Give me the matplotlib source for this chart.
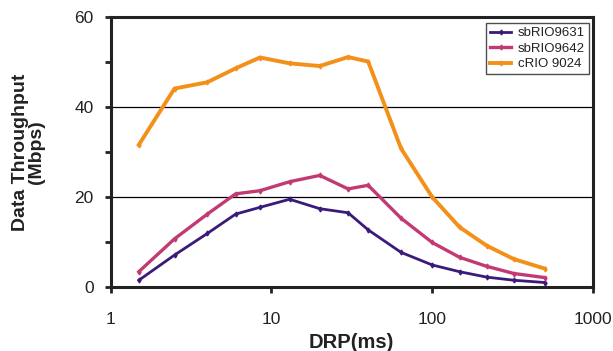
import numpy as np
import matplotlib
matplotlib.use('agg')
import matplotlib.pyplot as plt
from matplotlib.ticker import FixedLocator, NullLocator, NullFormatter

plt.rcParams['font.family'] = ['Liberation Sans', 'DejaVu Sans']

# DRP period (ms)
drp = [1.5, 2.5, 4, 6, 8.5, 13, 20, 30, 40, 64, 100, 148, 218, 322, 500]

# data throughput (Mbps)
sbrio9631 = [1.5, 7.1, 11.9, 16.2, 17.7, 19.5, 17.4, 16.5, 12.7, 7.7, 4.9, 3.4, 2.2, 1.5, 1.0]
sbrio9642 = [3.4, 10.7, 16.2, 20.7, 21.4, 23.4, 24.8, 21.8, 22.6, 15.3, 9.9, 6.6, 4.6, 3.0, 2.1]
crio9024  = [31.6, 44.1, 45.5, 48.6, 51.0, 49.7, 49.1, 51.1, 50.1, 30.8, 20.0, 13.3, 9.2, 6.2, 4.1]

names  = ['sbRIO9631', 'sbRIO9642', 'cRIO 9024']
colors = ['#3a1a7a', '#c23a72', '#f39019']
widths = [2.0, 2.4, 2.8]

W, H = 613, 351
fig = plt.figure(figsize=(W/100, H/100), dpi=100)
ax = fig.add_axes([110.5/W, 1-287/H, (593-110.5)/W, (287-17)/H])

for ys, name, c, lw in zip([sbrio9631, sbrio9642, crio9024], names, colors, widths):
    ax.plot(drp, ys, color=c, lw=lw, marker='d', ms=2.5, label=name, zorder=3)

ax.set_xscale('log')
ax.set_xlim(1, 1000)
ax.set_ylim(0, 60)
ax.xaxis.set_major_locator(FixedLocator([1, 10, 100, 1000]))
ax.xaxis.set_major_formatter(matplotlib.ticker.FixedFormatter(['1', '10', '100', '1000']))
ax.xaxis.set_minor_locator(NullLocator())
ax.xaxis.set_minor_formatter(NullFormatter())
ax.set_yticks([0, 20, 40, 60])
ax.set_yticks([10, 30, 50], minor=True)

for y in [20, 40]:
    ax.axhline(y, color='black', lw=0.9, zorder=1)

for s in ax.spines.values():
    s.set_color('#222222')
    s.set_linewidth(2.2)

ax.tick_params(axis='x', which='major', direction='out', length=4, width=2,
               color='#222222', pad=14, labelsize=12.5, labelcolor='#222222')
ax.tick_params(axis='y', which='both', direction='out', length=4, width=2,
               color='#222222', pad=8, labelsize=12.5, labelcolor='#222222')

ax.set_xlabel('DRP(ms)', fontsize=14.5, fontweight='bold', color='#222222', labelpad=4)
ax.set_ylabel('Data Throughput\n(Mbps)', fontsize=14, fontweight='bold', color='#222222',
              labelpad=21, linespacing=0.95)

leg = ax.legend(loc='upper right', bbox_to_anchor=(589/W, 1-23/H), bbox_transform=fig.transFigure,
                borderaxespad=0, fontsize=9.5, frameon=True, fancybox=False, handlelength=1.6,
                handletextpad=0.5, borderpad=0.3, labelspacing=0.25)
leg.get_frame().set_edgecolor('#222222')
leg.get_frame().set_linewidth(1.0)
for t in leg.get_texts():
    t.set_color('#222222')

fig.savefig('out.png', dpi=100)
